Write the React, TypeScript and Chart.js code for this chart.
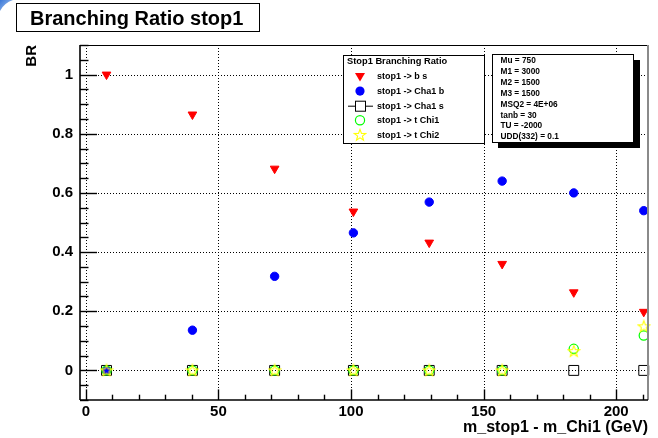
import React, { useEffect, useRef } from "react";
import { Chart, registerables } from "chart.js";

Chart.register(...registerables);

// ---- data ----
const massDiff = [7.8, 40.2, 71.2, 100.9, 129.5, 157.0, 184.0, 210.4];
const brBS = [1.0, 0.865, 0.682, 0.537, 0.432, 0.36, 0.264, 0.198];
const brCha1b = [0.0, 0.136, 0.318, 0.465, 0.569, 0.64, 0.6, 0.54];
const brCha1s = [0, 0, 0, 0, 0, 0, 0, 0];
const brTChi1 = [0, 0, 0, 0, 0, 0, 0.073, 0.118];
const brTChi2 = [0, 0, 0, 0, 0, 0, 0.065, 0.149];
const seriesLabels = [
  "stop1 -> b s",
  "stop1 -> Cha1 b",
  "stop1 -> Cha1 s",
  "stop1 -> t Chi1",
  "stop1 -> t Chi2",
];
const xTicks = [0, 50, 100, 150, 200];
const yTicks = [0, 0.2, 0.4, 0.6, 0.8, 1];
const paramLines = [
  "Mu = 750",
  "M1 = 3000",
  "M2 = 1500",
  "M3 = 1500",
  "MSQ2 = 4E+06",
  "tanb = 30",
  "TU = -2000",
  "UDD(332) = 0.1",
];
const chartTitle = "Branching Ratio stop1";
const legendTitle = "Stop1 Branching Ratio";
const xTitle = "m_stop1 - m_Chi1 (GeV)";
const yTitle = "BR";

const FONT = '"Liberation Sans", Arial, Helvetica, sans-serif';

function starPath(ctx: CanvasRenderingContext2D, cx: number, cy: number, R: number, r: number) {
  ctx.beginPath();
  for (let i = 0; i < 10; i++) {
    const ang = -Math.PI / 2 + (i * Math.PI) / 5;
    const rad = i % 2 === 0 ? R : r;
    const px = cx + Math.cos(ang) * rad;
    const py = cy + Math.sin(ang) * rad;
    if (i === 0) ctx.moveTo(px, py);
    else ctx.lineTo(px, py);
  }
  ctx.closePath();
}

function makeStar(): HTMLCanvasElement {
  const c = document.createElement("canvas");
  c.width = 14;
  c.height = 14;
  const g = c.getContext("2d")!;
  g.strokeStyle = "#ffff00";
  g.lineWidth = 1.1;
  starPath(g, 7, 7.4, 6, 2.5);
  g.stroke();
  return c;
}

function line(ctx: CanvasRenderingContext2D, x1: number, y1: number, x2: number, y2: number) {
  ctx.beginPath();
  ctx.moveTo(x1, y1);
  ctx.lineTo(x2, y2);
  ctx.stroke();
}

export default function App() {
  const ref = useRef<HTMLCanvasElement | null>(null);

  useEffect(() => {
    if (!ref.current) return;
    const star = makeStar();
    const pts = (ys: number[]) => massDiff.map((x, i) => ({ x, y: ys[i] }));

    const decor = {
      id: "rootDecor",
      beforeDatasetsDraw(chart: any) {
        const { ctx, chartArea: a, scales } = chart;
        const x = scales.x;
        const y = scales.y;
        ctx.save();
        ctx.strokeStyle = "#000";
        ctx.lineWidth = 1;
        ctx.setLineDash([1, 2]);
        for (const v of xTicks) {
          const px = Math.round(x.getPixelForValue(v)) + 0.5;
          line(ctx, px, a.top, px, a.bottom);
        }
        for (const v of yTicks) {
          const py = Math.round(y.getPixelForValue(v)) + 0.5;
          line(ctx, a.left, py, a.right, py);
        }
        ctx.restore();
      },
      afterDatasetsDraw(chart: any) {
        const { ctx, chartArea: a, scales } = chart;
        const x = scales.x;
        const y = scales.y;
        ctx.save();
        ctx.setLineDash([]);
        // frame
        ctx.strokeStyle = "#000";
        ctx.lineWidth = 1;
        line(ctx, a.left, a.top + 0.5, a.right, a.top + 0.5);
        ctx.strokeStyle = "#8a8a8a";
        ctx.lineWidth = 2;
        line(ctx, a.right, a.top, a.right, a.bottom);
        ctx.strokeStyle = "#000";
        ctx.lineWidth = 1.6;
        line(ctx, a.left, a.top, a.left, a.bottom);
        line(ctx, a.left, a.bottom, a.right, a.bottom);
        // y ticks
        ctx.lineWidth = 1.4;
        for (let i = -2; i <= 22; i++) {
          const v = i * 0.05;
          const py = Math.round(y.getPixelForValue(v)) + 0.5;
          const len = i % 4 === 0 ? 17 : 8.5;
          line(ctx, a.left, py, a.left + len, py);
        }
        // x ticks
        for (let i = 0; i <= 21; i++) {
          const v = i * 10;
          const px = Math.round(x.getPixelForValue(v)) + 0.5;
          if (px > a.right) break;
          const len = i % 5 === 0 ? 10.6 : 5.3;
          line(ctx, px, a.bottom, px, a.bottom - len);
        }

        // legend box
        ctx.lineWidth = 1;
        ctx.fillStyle = "#fff";
        ctx.fillRect(343.5, 55.5, 141, 88);
        ctx.strokeRect(343.5, 55.5, 141, 88);
        ctx.fillStyle = "#000";
        ctx.textBaseline = "middle";
        ctx.textAlign = "left";
        ctx.font = `bold 9.3px ${FONT}`;
        ctx.fillText(legendTitle, 347, 61.5);
        ctx.font = `bold 9px ${FONT}`;
        const mx = 360;
        seriesLabels.forEach((lab, i) => {
          const cy = 76.5 + i * 14.6;
          ctx.fillStyle = "#000";
          ctx.fillText(lab, 377, cy + 0.5);
          if (i === 0) {
            ctx.fillStyle = "#ff0000";
            ctx.beginPath();
            ctx.moveTo(mx - 5, cy - 3.5);
            ctx.lineTo(mx + 5, cy - 3.5);
            ctx.lineTo(mx, cy + 5);
            ctx.closePath();
            ctx.fill();
          } else if (i === 1) {
            ctx.fillStyle = "#0000ff";
            ctx.beginPath();
            ctx.arc(mx, cy, 4.6, 0, Math.PI * 2);
            ctx.fill();
          } else if (i === 2) {
            ctx.strokeStyle = "#000";
            ctx.lineWidth = 1;
            line(ctx, 348, cy + 0.5, 373, cy + 0.5);
            ctx.fillStyle = "#fff";
            ctx.fillRect(mx - 5, cy - 5, 10, 10);
            ctx.strokeRect(mx - 4.5, cy - 4.5, 10, 10);
          } else if (i === 3) {
            ctx.strokeStyle = "#00ff00";
            ctx.lineWidth = 1.2;
            ctx.beginPath();
            ctx.arc(mx, cy, 4.6, 0, Math.PI * 2);
            ctx.stroke();
          } else {
            ctx.drawImage(star, mx - 7, cy - 7);
          }
        });

        // parameter box with shadow
        ctx.fillStyle = "#000";
        ctx.fillRect(498, 60, 142, 88);
        ctx.fillStyle = "#fff";
        ctx.fillRect(492.5, 54.5, 141, 88);
        ctx.strokeStyle = "#000";
        ctx.lineWidth = 1;
        ctx.strokeRect(492.5, 54.5, 141, 88);
        ctx.fillStyle = "#000";
        ctx.font = `bold 8.3px ${FONT}`;
        paramLines.forEach((t, i) => {
          ctx.fillText(t, 500.5, 60.5 + i * 10.95);
        });

        // title box
        ctx.fillStyle = "#fff";
        ctx.fillRect(16.5, 3.5, 243, 28);
        ctx.strokeRect(16.5, 3.5, 243, 28);
        ctx.fillStyle = "#000";
        ctx.textBaseline = "alphabetic";
        ctx.font = `bold 20px ${FONT}`;
        ctx.fillText(chartTitle, 30, 24.5);

        // small blue corner artifact
        const grd = ctx.createLinearGradient(0, 0, 10, 10);
        grd.addColorStop(0, "#3a78d8");
        grd.addColorStop(1, "#9fc0ee");
        ctx.fillStyle = grd;
        ctx.beginPath();
        ctx.moveTo(0, 0);
        ctx.lineTo(13, 0);
        ctx.quadraticCurveTo(4, 3, 0, 11);
        ctx.closePath();
        ctx.fill();
        ctx.restore();
      },
    };

    const tickFont = { family: FONT, size: 15, weight: "bold" as const };
    const titleFont = { family: FONT, size: 16, weight: "bold" as const };

    const chart = new Chart(ref.current, {
      type: "scatter",
      data: {
        datasets: [
          {
            label: seriesLabels[0],
            data: pts(brBS),
            pointStyle: "triangle",
            pointRotation: 180,
            pointRadius: 5,
            pointHoverRadius: 5,
            pointBackgroundColor: "#ff0000",
            pointBorderColor: "#ff0000",
            pointBorderWidth: 1,
            order: 5,
            clip: false,
          },
          {
            label: seriesLabels[1],
            data: pts(brCha1b),
            pointStyle: "circle",
            pointRadius: 4.2,
            pointHoverRadius: 4.2,
            pointBackgroundColor: "#0000ff",
            pointBorderColor: "#0000ff",
            pointBorderWidth: 1,
            order: 4,
            clip: false,
          },
          {
            label: seriesLabels[2],
            data: pts(brCha1s),
            pointStyle: "rect",
            pointRadius: 7,
            pointHoverRadius: 7,
            pointBackgroundColor: "rgba(0,0,0,0)",
            pointBorderColor: "#000",
            pointBorderWidth: 1,
            order: 3,
            clip: false,
          },
          {
            label: seriesLabels[3],
            data: pts(brTChi1),
            pointStyle: "circle",
            pointRadius: 4.6,
            pointHoverRadius: 4.6,
            pointBackgroundColor: "rgba(0,0,0,0)",
            pointBorderColor: "#00ff00",
            pointBorderWidth: 1.2,
            order: 2,
            clip: false,
          },
          {
            label: seriesLabels[4],
            data: pts(brTChi2),
            pointStyle: star as any,
            pointRadius: 6,
            pointHoverRadius: 6,
            pointBackgroundColor: "rgba(0,0,0,0)",
            pointBorderColor: "#ffff00",
            order: 1,
            clip: false,
          },
        ] as any,
      },
      options: {
        responsive: false,
        animation: false,
        devicePixelRatio: 1,
        events: [],
        layout: { padding: { left: 0, right: 10, top: 45, bottom: 0 } },
        plugins: {
          legend: { display: false },
          tooltip: { enabled: false },
          title: { display: false },
        },
        scales: {
          x: {
            type: "linear",
            min: -2.2,
            max: 212,
            afterFit: (s: any) => {
              s.height = 38;
            },
            afterBuildTicks: (s: any) => {
              s.ticks = xTicks.map((v) => ({ value: v }));
            },
            grid: { display: false, drawTicks: false },
            border: { display: false },
            ticks: {
              padding: 3,
              color: "#000",
              font: tickFont,
              autoSkip: false,
              maxRotation: 0,
              callback: (v: any) => String(v),
            },
            title: {
              display: true,
              text: xTitle,
              align: "end",
              color: "#000",
              font: titleFont,
              padding: { top: 0, bottom: 1 },
            },
          },
          y: {
            type: "linear",
            min: -0.1,
            max: 1.1,
            afterFit: (s: any) => {
              s.width = 80;
            },
            afterBuildTicks: (s: any) => {
              s.ticks = yTicks.map((v) => ({ value: v }));
            },
            grid: { display: false, drawTicks: false },
            border: { display: false },
            ticks: {
              padding: 7,
              color: "#000",
              font: tickFont,
              autoSkip: false,
              callback: (v: any) => String(Math.round(v * 10) / 10),
            },
            title: {
              display: true,
              text: yTitle,
              align: "end",
              color: "#000",
              font: { family: FONT, size: 15, weight: "bold" as const },
              padding: { top: 23, bottom: 0 },
            },
          },
        },
      },
      plugins: [decor],
    } as any);

    return () => chart.destroy();
  }, []);

  return (
    <div style={{ position: "absolute", left: 0, top: 0, width: 658, height: 438, background: "#fff" }}>
      <canvas ref={ref} width={658} height={438} style={{ display: "block" }} />
    </div>
  );
}
